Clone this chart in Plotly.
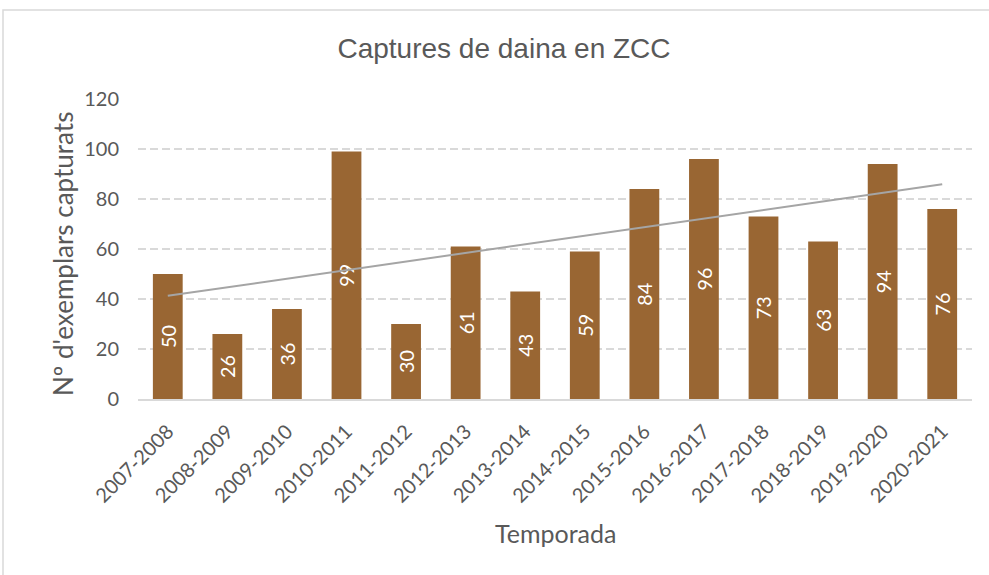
import numpy as np
import plotly.graph_objects as go

temporades = ["2007-2008", "2008-2009", "2009-2010", "2010-2011", "2011-2012",
              "2012-2013", "2013-2014", "2014-2015", "2015-2016", "2016-2017",
              "2017-2018", "2018-2019", "2019-2020", "2020-2021"]
captures = [50, 26, 36, 99, 30, 61, 43, 59, 84, 96, 73, 63, 94, 76]

# linear trendline (least squares)
xi = np.arange(1, len(captures) + 1)
slope, intercept = np.polyfit(xi, captures, 1)
trend = slope * xi + intercept

FONT = "Lato"
TXT = "#595959"
L, R, T, B = 138, 17, 99, 176
W, H = 989, 575
PW, PH = W - L - R, H - T - B


def px_x(p):
    return (p - L) / PW


def px_y(p):
    return (H - B - p) / PH


fig = go.Figure()
fig.add_trace(go.Bar(
    x=temporades, y=captures,
    marker=dict(color="#996633", line=dict(width=0)),
    text=[str(v) for v in captures],
    textposition="inside", insidetextanchor="middle", textangle=-90,
    textfont=dict(color="white", size=20, family=FONT),
    width=0.5, showlegend=False, hoverinfo="x+y",
))
fig.add_trace(go.Scatter(
    x=temporades, y=trend, mode="lines",
    line=dict(color="#a5a5a5", width=2), showlegend=False, hoverinfo="skip",
))

fig.update_layout(
    width=W, height=H,
    margin=dict(l=L, r=R, t=T, b=B),
    paper_bgcolor="white", plot_bgcolor="white",
    title=dict(text="Captures de daina en ZCC", x=504 / W, xref="container", xanchor="center",
               y=1 - 48 / H, yanchor="middle",
               font=dict(family="Liberation Sans", size=28, color=TXT)),
    font=dict(family=FONT, color=TXT),
    xaxis=dict(
        tickangle=-45, tickfont=dict(size=20, color=TXT, family=FONT),
        showline=True, linecolor="#d9d9d9", linewidth=2,
        showgrid=False, ticks="", automargin=False, ticklabelstandoff=11,
    ),
    yaxis=dict(
        range=[0, 120], dtick=20, tickfont=dict(size=20, color=TXT, family=FONT),
        showgrid=True, gridcolor="#d9d9d9", griddash="8px,4px", gridwidth=1.5,
        zeroline=False, showline=False, ticks="", automargin=False, ticklabelstandoff=18,
    ),
    annotations=[
        dict(text="Nº d'exemplars capturats", xref="paper", yref="paper",
             x=px_x(63), y=px_y(254), xanchor="center", yanchor="middle", textangle=-90,
             showarrow=False, font=dict(size=26, color=TXT, family=FONT)),
        dict(text="Temporada", xref="paper", yref="paper",
             x=0.5, y=px_y(533), xanchor="center", yanchor="middle",
             showarrow=False, font=dict(size=25, color=TXT, family=FONT)),
    ],
    shapes=[dict(type="rect", xref="paper", yref="paper",
                 x0=px_x(3), x1=px_x(1010), y0=px_y(600), y1=px_y(10),
                 line=dict(color="#d9d9d9", width=1.5), fillcolor="rgba(0,0,0,0)", layer="below")],
)

fig.write_html("out.html", config={"displayModeBar": False},
               post_script="document.body.style.margin='0';document.body.style.overflow='hidden';")
